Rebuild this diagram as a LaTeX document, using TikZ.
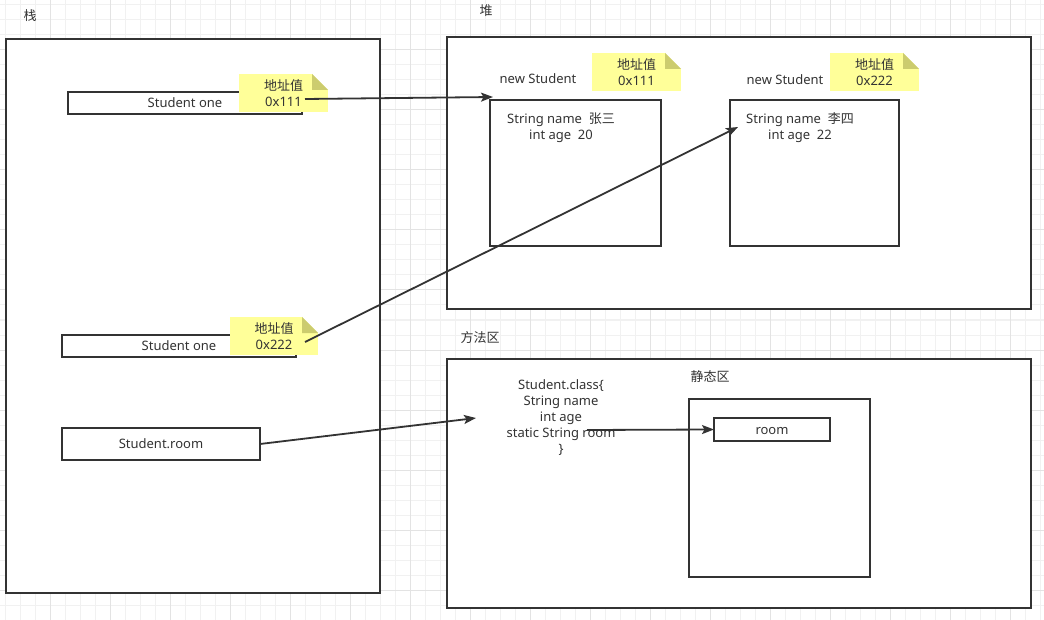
\documentclass[tikz,border=0pt]{standalone}
\usepackage{fontspec}
\setmainfont{Noto Sans}
\newfontfamily\cjk{Noto Sans CJK SC}
\usetikzlibrary{arrows.meta,calc}
\definecolor{ln}{HTML}{333333}
\definecolor{notey}{HTML}{FFFF99}
\definecolor{foldc}{HTML}{CCCC6E}
\definecolor{gminor}{HTML}{F1F1F1}
\definecolor{gmajor}{HTML}{E3E3E3}
\newcommand\mkfold[1]{%
  \fill[white] ($(#1.north east)+(-16,0)$) -- (#1.north east) -- ($(#1.north east)+(0,16)$) -- cycle;
  \fill[foldc] ($(#1.north east)+(-16,0)$) -- ($(#1.north east)+(-16,16)$) -- ($(#1.north east)+(0,16)$) -- cycle;}
\begin{document}
\begin{tikzpicture}[x=1pt,y=-1pt,
  every node/.style={font=\fontsize{13}{16}\selectfont, text=ln, inner sep=0pt, outer sep=0pt},
  box/.style={draw=ln, line width=2pt, fill=white, anchor=north west},
  notebox/.style={fill=notey, minimum width=88pt, minimum height=38pt, align=center, anchor=north west},
  txt/.style={align=center},
  conn/.style={draw=ln, line width=1.8pt, -{Stealth[length=12pt,width=9pt,inset=2.5pt]}},
  gmin/.style={draw=gminor, line width=1pt},
  gmaj/.style={draw=gmajor, line width=1pt}]
\useasboundingbox (0,0) rectangle (1044,620);
\fill[white] (0,0) rectangle (1044,620);
% grid
\foreach \i in {5,20,...,1040} \draw[gmin] (\i,0) -- (\i,620);
\foreach \j in {5,20,...,615} \draw[gmin] (0,\j) -- (1044,\j);
\foreach \i in {50,110,...,1010} \draw[gmaj] (\i,0) -- (\i,620);
\foreach \j in {50,110,...,590} \draw[gmaj] (0,\j) -- (1044,\j);

% ---- stack ----
\node (lstack) at (30,16) {\cjk 栈};
\node[box, minimum width=374pt, minimum height=554pt] (stack) at (6,39) {};
\node[box, minimum width=234pt, minimum height=22pt] (sone1) at (68,92) {Student one};
\node[notebox, minimum width=89pt] (note1) at (239,74) {{\cjk 地址值}\\0x111};
\mkfold{note1}
\node[box, minimum width=234pt, minimum height=22pt] (sone2) at (62,335) {Student one};
\node[notebox] (note2) at (230,317) {{\cjk 地址值}\\0x222};
\mkfold{note2}
\node[box, minimum width=198pt, minimum height=32pt] (sroom) at (62,428) {Student.room};

% ---- heap ----
\node (lheap) at (486,11) {\cjk 堆};
\node[box, minimum width=584pt, minimum height=272pt] (heap) at (447,37) {};
\node (new1) at (538,79) {new Student};
\node[notebox, minimum width=89pt] (hnote1) at (592,53) {{\cjk 地址值}\\0x111};
\mkfold{hnote1}
\node (new2) at (785,80) {new Student};
\node[notebox, minimum width=89pt] (hnote2) at (830,53) {{\cjk 地址值}\\0x222};
\mkfold{hnote2}
\node[box, minimum width=171pt, minimum height=146pt] (obj1) at (490,100) {};
\node[txt] (obj1t) at (561,127.5) {String name\ \ {\cjk 张三}\\int age\ \ 20};
\node[box, minimum width=169pt, minimum height=146pt] (obj2) at (730,100) {};
\node[txt] (obj2t) at (800,127.5) {String name\ \ {\cjk 李四}\\int age\ \ 22};

% ---- method area ----
\node (lmethod) at (480,338) {\cjk 方法区};
\node[box, minimum width=584pt, minimum height=249pt] (method) at (447,359) {};
\node[txt] (cls) at (561,418) {Student.class\{\\String name\\int age\\static String room\\\}};
\node (lstatic) at (710,377) {\cjk 静态区};
\node[box, minimum width=181pt, minimum height=178pt] (static) at (689,399) {};
\node[box, minimum width=116pt, minimum height=23pt, text height=10pt, text depth=0pt] (room) at (714,418) {room};

% ---- connectors ----
\coordinate (a1s) at (305,99);
\coordinate (a1e) at (493,97);
\coordinate (a2s) at (305,342);
\coordinate (a2e) at (738,127);
\coordinate (a3e) at (476,418);
\coordinate (a4s) at (587,430);
\draw[conn] (a1s) -- (a1e);
\draw[conn] (a2s) -- (a2e);
\draw[conn] (sroom.east) -- (a3e);
\draw[conn] (a4s) -- (room.west);
\end{tikzpicture}
\end{document}
